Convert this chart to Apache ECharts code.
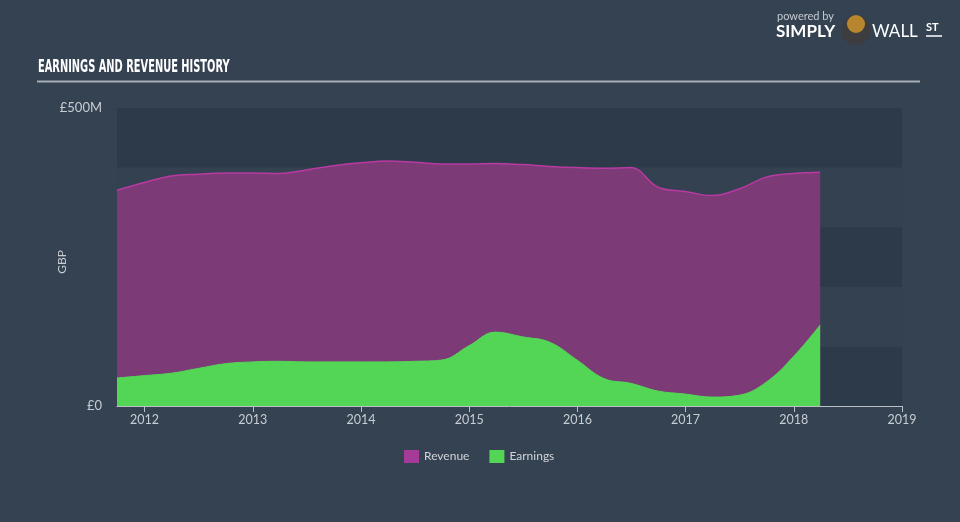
<!DOCTYPE html>
<html>
<head>
<meta charset="utf-8">
<script src="https://cdn.jsdelivr.net/npm/echarts@6/dist/echarts.min.js"></script>
<style>
html,body{margin:0;padding:0;background:#344252;}
#chart{width:960px;height:522px;}
</style>
</head>
<body>
<div id="chart"></div>
<script>
var dates = ['2011-09-30','2011-12-31','2012-03-31','2012-06-30','2012-09-30','2012-12-31',
  '2013-03-31','2013-06-30','2013-09-30','2013-12-31','2014-03-31','2014-06-30','2014-09-30','2014-12-31',
  '2015-03-31','2015-06-30','2015-09-30','2015-12-31','2016-03-31','2016-06-30','2016-09-30','2016-12-31',
  '2017-03-31','2017-06-30','2017-09-30','2017-12-31','2018-03-31'];
var revenue = [362,375,386,389,391,391,390,396,403,408,411,409,406,406,407,405,402,400,399,400,367,360,353,364,384,390,392];
var earnings = [47,51,55,63,71,74,75,74,74,74,74,75,77,101,124,116,107,77,46,38,25,20,15,18,40,83,136];
var yearTicks = [2012,2013,2014,2015,2016,2017,2018,2019];
var yTickLabels = {0:'£0', 500:'£500M'};

function toYear(s){
  var d = new Date(s + 'T00:00:00Z');
  var y = d.getUTCFullYear();
  var a = Date.UTC(y,0,1), b = Date.UTC(y+1,0,1);
  return y + (d.getTime() - a) / (b - a);
}
function pairs(vals){ return dates.map(function(d,i){ return [toYear(d), vals[i]]; }); }

var chart = echarts.init(document.getElementById('chart'), null, {renderer:'canvas'});
chart.setOption({
  backgroundColor: '#344252',
  animation: false,
  grid: {left:117, right:58, top:108, bottom:116},
  legend: {
    top: 445, left: 399, itemWidth: 15, itemHeight: 13, itemGap: 20,
    icon: 'rect',
    textStyle: {color:'#d0d4d9', fontSize:12, fontFamily:'Lato, sans-serif'},
    data: [{name:'Revenue', itemStyle:{color:'#a53a99'}}, {name:'Earnings', itemStyle:{color:'#53d655'}}]
  },
  graphic: [
    {type:'text', x:38, y:58, scaleX:0.616, scaleY:1.15,
      style:{text:'EARNINGS AND REVENUE HISTORY', fill:'#ffffff', font:'bold 16px "DejaVu Sans", sans-serif'}},
    {type:'line', shape:{x1:37, y1:81.5, x2:920, y2:81.5}, style:{stroke:'#a6adb5', lineWidth:2}},
    {type:'text', x:62, y:262, rotation:Math.PI/2,
      style:{text:'GBP', fill:'#c8cdd3', font:'12px Lato, sans-serif', align:'center', verticalAlign:'middle'}},
    {type:'text', left:777, top:11, style:{text:'powered by', fill:'#c5cad0', font:'11px Lato, sans-serif'}},
    {type:'text', left:776, top:23, style:{text:'SIMPLY', fill:'#ffffff', font:'bold 17px Lato, sans-serif'}},
    {type:'circle', shape:{cx:856, cy:30, r:15}, style:{fill:'#3d3d40'}},
    {type:'circle', shape:{cx:856, cy:24, r:9}, style:{fill:'#b8862e'}},
    {type:'text', left:872, top:23, style:{text:'WALL', fill:'#ffffff', font:'17px Lato, sans-serif'}},
    {type:'text', left:926, top:22, style:{text:'ST', fill:'#ffffff', font:'bold 11px Lato, sans-serif'}},
    {type:'line', shape:{x1:926, y1:36, x2:942, y2:36}, style:{stroke:'#ffffff', lineWidth:1.5}}
  ],
  xAxis: {
    type: 'value',
    min: toYear(dates[0]),
    max: 2019,
    axisLine: {show:true, lineStyle:{color:'#b9c0c8', width:1}},
    axisTick: {show:true, length:6, lineStyle:{color:'#b9c0c8'}, customValues: yearTicks},
    axisLabel: {color:'#c8cdd3', fontSize:12.5, margin:7, fontFamily:'Lato, sans-serif',
      customValues: yearTicks,
      formatter: function(v){ return String(Math.round(v)); }},
    splitLine: {show:false}
  },
  yAxis: {
    type: 'value', min: 0, max: 500, interval: 100,
    axisLine: {show:false}, axisTick: {show:false},
    axisLabel: {color:'#c8cdd3', fontSize:13, margin:15, fontFamily:'Lato, sans-serif',
      formatter: function(v){ return yTickLabels[v] || ''; }},
    splitLine: {show:false},
    splitArea: {show:true, areaStyle:{color:['#2d3a49','#334151']}}
  },
  series: [
    {name:'Revenue', type:'line', data: pairs(revenue), smooth:0.4, symbol:'none',
      lineStyle:{color:'#b83aa2', width:1.5}, itemStyle:{color:'#a53a99'},
      areaStyle:{color:'#7c3a76', opacity:1}},
    {name:'Earnings', type:'line', data: pairs(earnings), smooth:0.4, symbol:'none',
      lineStyle:{color:'#53d655', width:1}, itemStyle:{color:'#53d655'},
      areaStyle:{color:'#53d655', opacity:1}}
  ]
});
</script>
</body>
</html>
